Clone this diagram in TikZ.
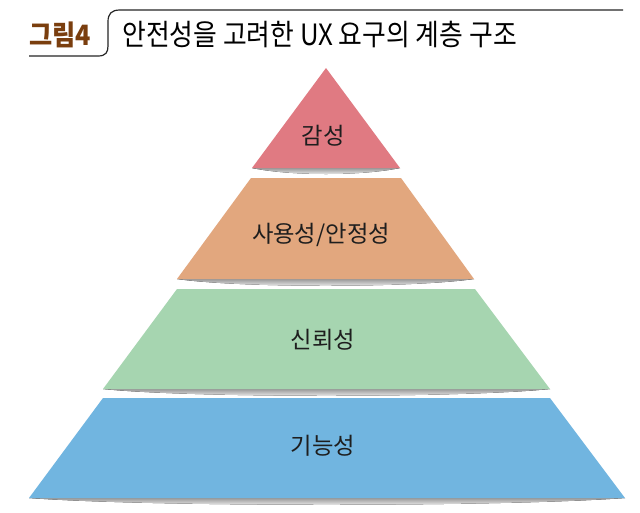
\documentclass[tikz,border=0pt]{standalone}
\usepackage{fontspec}
\setmainfont{Noto Sans CJK KR}
\newfontfamily\krfont{Noto Sans CJK KR}
\usetikzlibrary{shadings}
\definecolor{tierred}{HTML}{E07A82}
\definecolor{tierorange}{HTML}{E2A77E}
\definecolor{tiergreen}{HTML}{A6D5B0}
\definecolor{tierblue}{HTML}{71B5E0}
\definecolor{figbrown}{HTML}{7A3E0E}
\definecolor{labelgray}{HTML}{1E1E1E}
\tikzset{
  tierlabel/.style={font=\krfont\fontsize{17.5}{19}\selectfont, text=labelgray, inner sep=0pt},
  tiershadow/.style={top color=black!40, bottom color=white, draw=none},
  bracketline/.style={draw=black!85, line width=0.9pt},
}
\begin{document}
\begin{tikzpicture}[x=0.75pt,y=-0.75pt]
\useasboundingbox[fill=white] (0,0) rectangle (640,512);
% header
\coordinate (b0) at (29,56);
\coordinate (b1) at (623,10);
\draw[bracketline] (b0) -- (98,56) .. controls (106,56) and (108,52) .. (108,46) -- (108,22)
  .. controls (108,14) and (111,10) .. (120,10) -- (b1);
\node[anchor=base west, inner sep=0pt, text=figbrown, font=\krfont\bfseries\fontsize{21}{24}\selectfont] (fig) at (29,45) {\scalebox{0.9}[1]{그림4}};
\node[anchor=base west, inner sep=0pt, text=black, font=\krfont\fontsize{22}{24}\selectfont] (title) at (122,45) {\scalebox{0.88}[1]{안전성을 고려한 UX 요구의 계층 구조}};
% shadows
\fill[tiershadow] (252,168) .. controls (290,176) and (362,176) .. (400,168) -- cycle;
\fill[tiershadow] (177,279) .. controls (240,288) and (411,288) .. (474,279) -- cycle;
\fill[tiershadow] (103,389) .. controls (190,398) and (463,398) .. (550,389) -- cycle;
\fill[tiershadow] (29,498) .. controls (150,507) and (503,507) .. (625,498) -- cycle;
% tiers
\fill[tierred] (326,68) -- (400,168) -- (252,168) -- cycle;
\fill[tierorange] (251,178) -- (401,178) -- (474,279) -- (177,279) -- cycle;
\fill[tiergreen] (177,289) -- (475,289) -- (550,389) -- (103,389) -- cycle;
\fill[tierblue] (103,398) -- (550,398) -- (625,498) -- (29,498) -- cycle;
% labels
\node[tierlabel] (l1) at (323,136) {감성};
\node[tierlabel] (l2) at (321,235) {사용성/안정성};
\node[tierlabel] (l3) at (323,340) {신뢰성};
\node[tierlabel] (l4) at (323,446) {기능성};
\end{tikzpicture}
\end{document}
